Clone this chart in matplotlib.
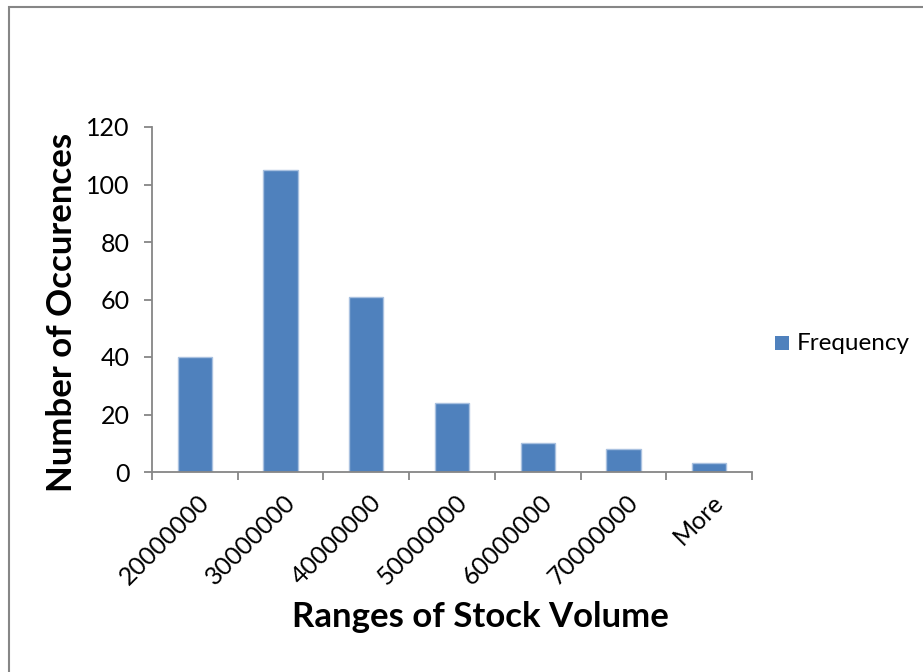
import matplotlib
matplotlib.use('Agg')
import matplotlib.pyplot as plt
from matplotlib.patches import Rectangle

# histogram bins of daily stock volume and their counts
bins = ['20000000', '30000000', '40000000', '50000000', '60000000', '70000000', 'More']
frequency = [40, 105, 61, 24, 10, 8, 3]

plt.rcParams['font.family'] = ['Lato', 'DejaVu Sans']

fig = plt.figure(figsize=(9.23, 6.72), dpi=100)
ax = fig.add_axes([152/923, 1 - 472/672, 600/923, 345/672])

grey = '#868686'
ax.bar(range(len(bins)), frequency, width=0.4, color='#4F81BD', edgecolor='#a9c1e0', linewidth=1)

ax.set_xlim(-0.5, len(bins) - 0.5)
ax.set_ylim(0, 120)
ax.set_yticks(range(0, 121, 20))
ax.set_xticks([i - 0.5 for i in range(len(bins) + 1)])
ax.set_xticklabels([])
ax.tick_params(axis='y', direction='out', length=6, width=1.3, color=grey, labelsize=18, pad=10)
ax.tick_params(axis='x', direction='out', length=6, width=1.3, color=grey)
for side in ['top', 'right']:
    ax.spines[side].set_visible(False)
for side in ['left', 'bottom']:
    ax.spines[side].set_color(grey)
    ax.spines[side].set_linewidth(1.3)

# rotated category labels under each bar
for i, lab in enumerate(bins):
    ax.annotate(lab, xy=(i, 0), xycoords='data', xytext=(2, -13), textcoords='offset points',
                rotation=45, ha='right', va='top', rotation_mode='anchor', fontsize=18)

fig.text(480/923, 1 - 617/672, 'Ranges of Stock Volume', ha='center', va='center',
         fontsize=25, fontweight='bold')
fig.text(62/923, 1 - 312/672, 'Number of Occurences', ha='center', va='center',
         rotation=90, fontsize=25, fontweight='bold')

# legend
fig.patches.append(Rectangle((775/923, 1 - 350/672), 14/923, 14/672, transform=fig.transFigure,
                             facecolor='#4F81BD', edgecolor='none'))
fig.text(797/923, 1 - 343/672, 'Frequency', ha='left', va='center', fontsize=17.5)

# outer chart frame
fig.patches.append(Rectangle((9/923, -0.1), 1.2, 1 - 7/672 + 0.1, transform=fig.transFigure,
                             facecolor='none', edgecolor=grey, linewidth=1.5))

fig.savefig('out.png', dpi=100)
